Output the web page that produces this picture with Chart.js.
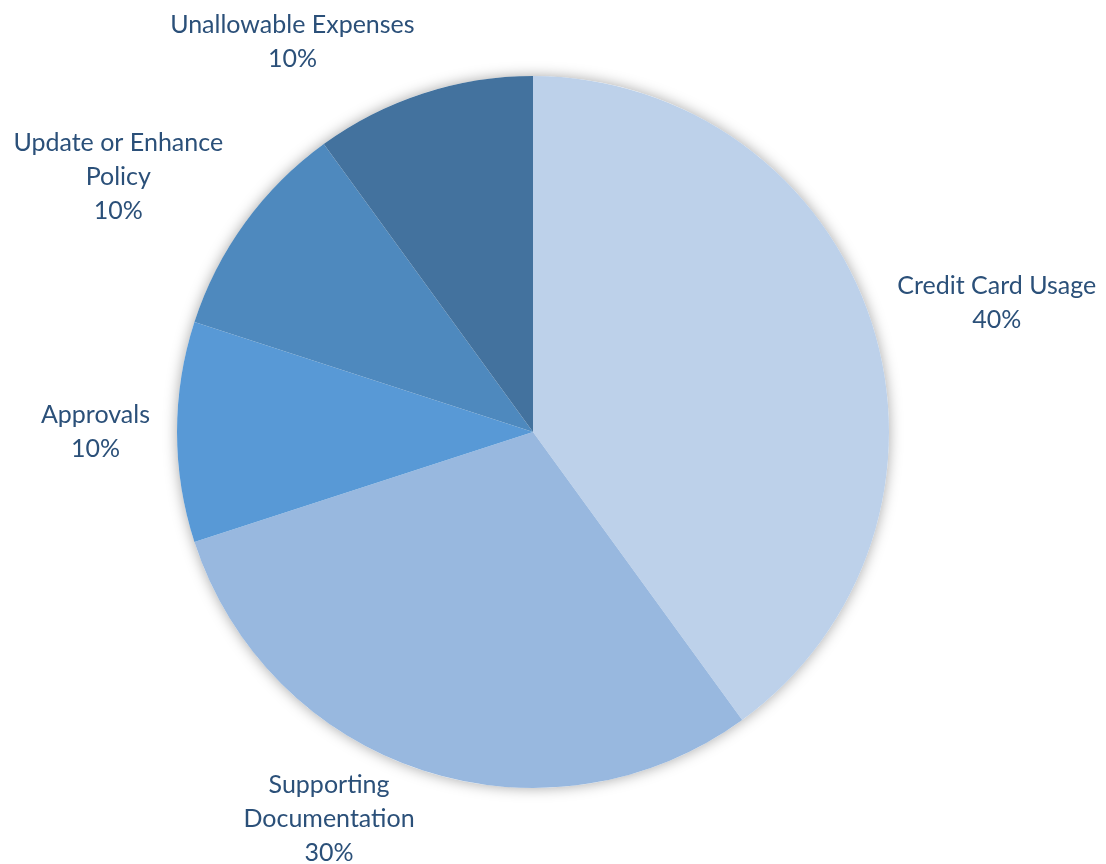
<!DOCTYPE html>
<html>
<head>
<meta charset="utf-8">
<script src="https://cdn.jsdelivr.net/npm/chart.js@4"></script>
<style>
  html, body { margin: 0; padding: 0; background: #fff; }
  #wrap { width: 1106px; height: 864px; }
</style>
</head>
<body>
<div id="wrap"><canvas id="findings-pie" width="1106" height="864"></canvas></div>
<script>
const categories = [
  'Credit Card Usage',
  'Supporting Documentation',
  'Approvals',
  'Update or Enhance Policy',
  'Unallowable Expenses',
];
// label lines as they are wrapped on the chart
const labelLines = [
  ['Credit Card Usage'],
  ['Supporting', 'Documentation'],
  ['Approvals'],
  ['Update or Enhance', 'Policy'],
  ['Unallowable Expenses'],
];
const shares = [40, 30, 10, 10, 10];
const sliceColors = ['#BDD1EA', '#98B8DF', '#5899D6', '#4E89BE', '#43729E'];

const labelFont = '25px Lato, "Open Sans", sans-serif';
const labelColor = '#2B5079';
const lineHeight = 34;

// soft halo under the whole pie
const pieShadow = {
  id: 'pieShadow',
  beforeDatasetsDraw(chart) {
    const arc = chart.getDatasetMeta(0).data[0];
    if (!arc) return;
    const { ctx } = chart;
    ctx.save();
    ctx.beginPath();
    ctx.arc(arc.x, arc.y, arc.outerRadius, 0, Math.PI * 2);
    ctx.shadowColor = 'rgba(0, 0, 0, 0.35)';
    ctx.shadowBlur = 14;
    ctx.fillStyle = '#ffffff';
    ctx.fill();
    ctx.restore();
  },
};

// category name + percent placed just outside each slice
const outsideLabels = {
  id: 'outsideLabels',
  afterDatasetsDraw(chart) {
    const { ctx } = chart;
    const meta = chart.getDatasetMeta(0);
    ctx.save();
    ctx.font = labelFont;
    ctx.fillStyle = labelColor;
    ctx.textBaseline = 'middle';

    meta.data.forEach((arc, i) => {
      const mid = (arc.startAngle + arc.endAngle) / 2;
      const dx = Math.cos(mid);
      const dy = Math.sin(mid);
      const gap = 27;
      const px = arc.x + dx * (arc.outerRadius + gap);
      const py = arc.y + dy * (arc.outerRadius + gap);

      const lines = labelLines[i].concat([shares[i] + '%']);
      const w = Math.max(...lines.map((t) => ctx.measureText(t).width));
      const h = lines.length * lineHeight;

      let left = px - w / 2;
      if (dx > 0.3) left = px;
      else if (dx < -0.3) left = px - w;

      // vertical offset grows with how far up/down the slice points
      let top = py - h / 2 + (dy * h) / 2;

      // keep the block inside the canvas
      left = Math.min(Math.max(left, 4), chart.width - w - 4);
      top = Math.min(Math.max(top, 8), chart.height - h + 6);

      ctx.textAlign = 'center';
      lines.forEach((t, k) => {
        ctx.fillText(t, left + w / 2, top + lineHeight * (k + 0.5));
      });
    });
    ctx.restore();
  },
};

new Chart(document.getElementById('findings-pie'), {
  type: 'pie',
  data: {
    labels: categories,
    datasets: [
      {
        data: shares,
        backgroundColor: sliceColors,
        borderWidth: 0,
      },
    ],
  },
  options: {
    responsive: false,
    animation: false,
    layout: {
      padding: { left: 177, right: 217, top: 76, bottom: 76 },
    },
    plugins: {
      legend: { display: false },
      tooltip: { enabled: false },
    },
  },
  plugins: [pieShadow, outsideLabels],
});
</script>
</body>
</html>
